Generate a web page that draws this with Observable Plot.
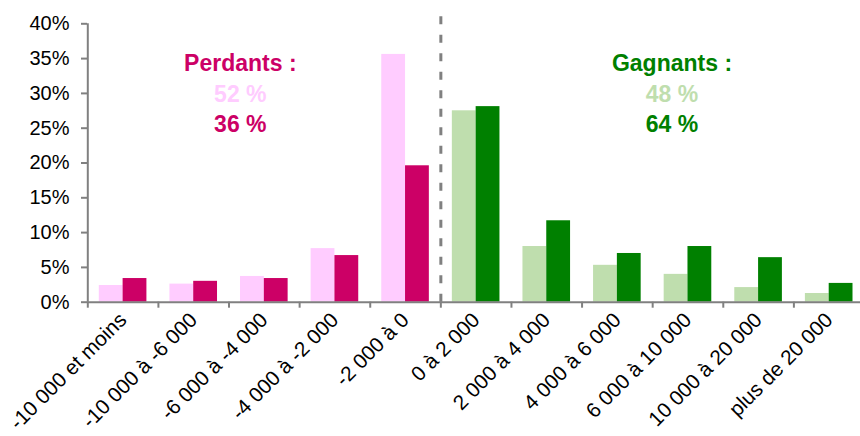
<!DOCTYPE html>
<html>
<head>
<meta charset="utf-8">
<script src="https://cdn.jsdelivr.net/npm/d3@7"></script>
<script src="https://cdn.jsdelivr.net/npm/@observablehq/plot@0.6"></script>
<style>
  html, body { margin: 0; padding: 0; background: #fff; }
  #chart svg { display: block; font-family: "Liberation Sans", Arial, sans-serif; }
</style>
</head>
<body>
<div id="chart"></div>
<script>
const categories = [
  "-10 000 et moins", "-10 000 à -6 000", "-6 000 à -4 000", "-4 000 à -2 000", "-2 000 à 0",
  "0 à 2 000", "2 000 à 4 000", "4 000 à 6 000", "6 000 à 10 000", "10 000 à 20 000", "plus de 20 000"
];
const seriesLight = [2.4, 2.6, 3.7, 7.7, 35.6, 27.5, 8.0, 5.3, 4.0, 2.1, 1.25];
const seriesDark  = [3.4, 3.0, 3.4, 6.7, 19.6, 28.1, 11.7, 7.0, 8.0, 6.4, 2.7];
const yTicks = [0, 5, 10, 15, 20, 25, 30, 35, 40];
const losersCount = 5;

const annLosers = {title: "Perdants :", light: "52 %", dark: "36 %", anchor: "-6 000 à -4 000"};
const annWinners = {title: "Gagnants :", light: "48 %", dark: "64 %", anchor: "6 000 à 10 000"};

const pinkLight = "#FFCCFF", pinkDark = "#CC0066";
const greenLight = "#BFDEAE", greenDark = "#008000";
const grey = "#808080";

const rows = categories.map((c, i) => ({
  cat: c, light: seriesLight[i], dark: seriesDark[i], loser: i < losersCount
}));

const W = 860, H = 436;
const x0 = 87.3, x1 = 864;
const bw = (x1 - x0) / categories.length;
const gap = 11.5, barW = (bw - 2 * gap) / 2;

const font = "Liberation Sans, Arial, sans-serif";

const plot = Plot.plot({
  width: W,
  height: H,
  marginLeft: 87,
  marginRight: 0,
  marginTop: 23,
  marginBottom: 134,
  style: {fontFamily: font, background: "#fff", color: "#000", overflow: "visible"},
  x: {domain: categories, range: [x0, x1], padding: 0, round: false, axis: null},
  y: {domain: [0, 40], range: [301.7, 23.3], axis: null},
  marks: [
    Plot.barY(rows, {x: "cat", y: "light", fill: d => d.loser ? pinkLight : greenLight,
      insetLeft: gap, insetRight: gap + barW}),
    Plot.barY(rows, {x: "cat", y: "dark", fill: d => d.loser ? pinkDark : greenDark,
      insetLeft: gap + barW, insetRight: gap}),
    // x axis line
    Plot.ruleY([0], {stroke: grey, strokeWidth: 2}),
    // y axis line
    Plot.ruleX([categories[0]], {dx: -bw / 2, y1: 0, y2: 40, stroke: grey, strokeWidth: 2}),
    // category boundary ticks
    Plot.ruleX(categories, {x: d => d, dx: -bw / 2, y1: 0, y2: 0, insetBottom: -6, stroke: grey, strokeWidth: 2}),
    // dashed separator
    Plot.ruleX([categories[losersCount]], {dx: -bw / 2, y1: 0, y2: 41, stroke: grey, strokeWidth: 3, strokeDasharray: "8,10.5"}),
    // y axis ticks + labels
    Plot.axisY({ticks: yTicks, tickFormat: d => d + "%", fontSize: 20, tickSize: 6, tickPadding: 12,
      stroke: grey, strokeWidth: 2, fill: "#000", label: null}),
    // x axis labels
    Plot.axisX({tickRotate: -45, fontSize: 20.8, tickSize: 0, tickPadding: 14, fill: "#000", label: null}),
    // annotations
    Plot.text([annLosers], {x: "anchor", y: 34.3, text: "title", dx: -24, fill: pinkDark, fontSize: 23, fontWeight: "bold"}),
    Plot.text([annLosers], {x: "anchor", y: 29.8, text: "light", dx: -24, fill: pinkLight, fontSize: 23, fontWeight: "bold"}),
    Plot.text([annLosers], {x: "anchor", y: 25.5, text: "dark", dx: -24, fill: pinkDark, fontSize: 23, fontWeight: "bold"}),
    Plot.text([annWinners], {x: "anchor", y: 34.3, text: "title", dx: -16, fill: greenDark, fontSize: 23, fontWeight: "bold"}),
    Plot.text([annWinners], {x: "anchor", y: 29.8, text: "light", dx: -16, fill: greenLight, fontSize: 23, fontWeight: "bold"}),
    Plot.text([annWinners], {x: "anchor", y: 25.5, text: "dark", dx: -16, fill: greenDark, fontSize: 23, fontWeight: "bold"})
  ]
});
document.getElementById("chart").append(plot);
</script>
</body>
</html>
